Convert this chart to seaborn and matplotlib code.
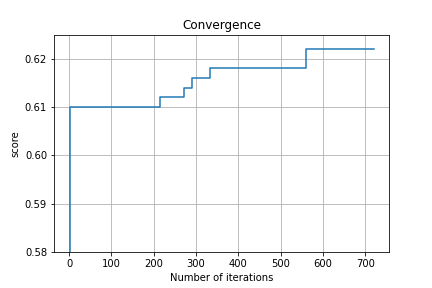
import matplotlib
matplotlib.use("Agg")
import matplotlib.pyplot as plt
import seaborn as sns

# best score so far at each improvement
iterations = [0, 1, 215, 272, 291, 333, 560, 720]
scores = [0.562, 0.610, 0.612, 0.614, 0.616, 0.618, 0.622, 0.622]

fig, ax = plt.subplots(figsize=(6, 4), dpi=72)
fig.subplots_adjust(left=0.125, right=0.9, bottom=0.125, top=0.88)
sns.lineplot(x=iterations, y=scores, drawstyle='steps-post', ax=ax, color='#1f77b4')
ax.set_ylim(0.58, 0.625)
ax.set_xlim(-36, 756)
ax.set_yticks([0.58, 0.59, 0.60, 0.61, 0.62])
ax.grid(True)
ax.set_title('Convergence')
ax.set_xlabel('Number of iterations')
ax.set_ylabel('score')
plt.savefig('out.png')
